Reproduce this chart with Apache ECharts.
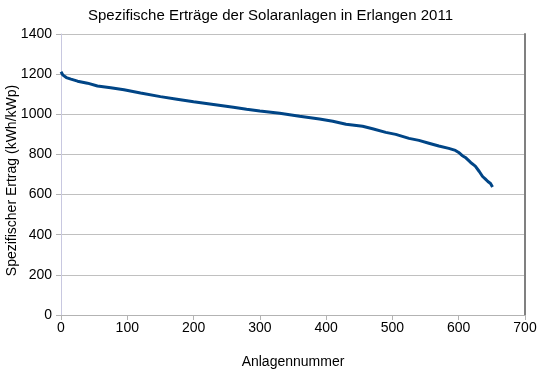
<!DOCTYPE html>
<html><head><meta charset="utf-8">
<script src="https://cdn.jsdelivr.net/npm/echarts@6/dist/echarts.min.js"></script>
<style>html,body{margin:0;padding:0;background:#fff}#c{width:541px;height:374px}</style>
</head><body><div id="c"></div>
<script>
var titleText = "Spezifische Erträge der Solaranlagen in Erlangen 2011";
var xName = "Anlagennummer";
var yName = "Spezifischer Ertrag (kWh/kWp)";
var anlagen = [0, 3, 8, 15, 25, 40, 55, 75, 95, 120, 150, 175, 200, 230, 260, 280, 300, 330, 360, 390, 410, 430, 455, 470, 490, 505, 525, 540, 555, 570, 585, 595, 600, 605, 610, 618, 625, 631, 636, 640, 644, 648, 651];
var ertrag = [1212, 1195, 1183, 1175, 1165, 1155, 1141, 1132, 1122, 1106, 1088, 1075, 1062, 1049, 1035, 1025, 1016, 1005, 990, 976, 965, 950, 940, 928, 910, 900, 880, 870, 856, 842, 830, 820, 810, 795, 785, 760, 742, 715, 690, 678, 665, 655, 638];
var data = anlagen.map(function(x, i){ return [x, ertrag[i]]; });
var font = "'Liberation Sans', Arial, sans-serif";
var chart = echarts.init(document.getElementById('c'), null, {renderer:'canvas'});
chart.setOption({
  animation:false,
  backgroundColor:'#fff',
  title:{text:titleText, left:'center', top:3, textStyle:{fontFamily:font, fontSize:15, fontWeight:'normal', color:'#000'}},
  grid:{left:61, right:16, top:34, bottom:59, outerBoundsMode:'none', containLabel:false},
  xAxis:{type:'value', min:0, max:700, interval:100,
    name:xName, nameLocation:'middle', nameGap:40,
    nameTextStyle:{fontFamily:font, fontSize:14, color:'#000'},
    axisLine:{show:true, lineStyle:{color:'#b3b3b3'}},
    axisTick:{show:true, length:5, lineStyle:{color:'#b3b3b3'}},
    axisLabel:{fontFamily:font, fontSize:14, color:'#000', margin:6, formatter:function(v){return String(v);}},
    splitLine:{show:false}},
  yAxis:[{type:'value', min:0, max:1400, interval:200,
    name:yName, nameLocation:'middle', nameGap:42, nameRotate:90, nameMoveOverlap:false,
    nameTextStyle:{fontFamily:font, fontSize:14, color:'#000', padding:[0,12,0,0]},
    axisLine:{show:true, lineStyle:{color:'#c8c8e0'}},
    axisTick:{show:true, length:5, lineStyle:{color:'#b3b3b3'}},
    axisLabel:{fontFamily:font, fontSize:14, color:'#000', margin:9, formatter:function(v){return String(v);}},
    splitLine:{show:true, lineStyle:{color:'#c0c0c0'}}},
   {type:'value', min:0, max:1400, position:'right',
    axisLine:{show:true, lineStyle:{color:'#808080', width:2}},
    axisTick:{show:false}, axisLabel:{show:false}, splitLine:{show:false}}],
  series:[{type:'line', data:data, showSymbol:false, symbol:'none',
    lineStyle:{color:'#004586', width:3}}]
});
</script></body></html>
